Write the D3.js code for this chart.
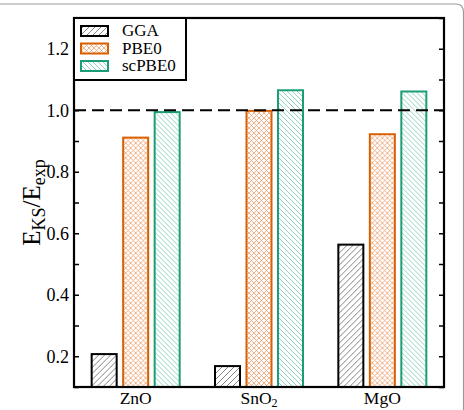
<!DOCTYPE html>
<html>
<head>
<meta charset="utf-8">
<script src="https://cdn.jsdelivr.net/npm/d3@7/dist/d3.min.js"></script>
<style>
  body { margin: 0; background: #fff; }
</style>
</head>
<body>
<div id="chart"></div>
<script>
// materials along the x axis
var materials = ["ZnO", "SnO2", "MgO"];
// methods (one bar each per material)
var methods = ["GGA", "PBE0", "scPBE0"];
// E_KS / E_exp
var ggaValues = [0.207, 0.168, 0.563];
var pbe0Values = [0.911, 0.998, 0.922];
var scpbe0Values = [0.994, 1.065, 1.061];
var yTicks = [0.2, 0.4, 0.6, 0.8, 1.0, 1.2];
var yMinorTicks = [0.1, 0.2, 0.3, 0.4, 0.5, 0.6, 0.7, 0.8, 0.9, 1.0, 1.1, 1.2, 1.3];
var refLine = 1.0;

var W = 464, H = 410;
var margin = {top: 18, right: 20, bottom: 23, left: 74};
var width = W - margin.left - margin.right,
    height = H - margin.top - margin.bottom;
var serif = "'Liberation Serif', 'Times New Roman', Times, 'DejaVu Serif', serif";

var colors = {GGA: "#000000", PBE0: "#d95f02", scPBE0: "#1b9e77"};
var hatch = {GGA: "url(#hatchGGA)", PBE0: "url(#hatchPBE0)", scPBE0: "url(#hatchSC)"};

// build rows from the arrays
var rows = materials.map(function(m, i) {
  return {material: m, values: [
    {method: "GGA", value: ggaValues[i]},
    {method: "PBE0", value: pbe0Values[i]},
    {method: "scPBE0", value: scpbe0Values[i]}
  ]};
});

var svg = d3.select("#chart").append("svg")
  .attr("width", W).attr("height", H)
  .attr("font-family", serif);

// faint rounded frame of the original figure
svg.append("path")
  .attr("d", "M0,4 H456 Q463,4 463.5,12 V410")
  .attr("fill", "none").attr("stroke", "#9a9a9a").attr("stroke-width", 1.2);

// hatch patterns
var defs = svg.append("defs");
var pg = defs.append("pattern").attr("id", "hatchGGA")
  .attr("patternUnits", "userSpaceOnUse").attr("width", 6).attr("height", 6);
pg.append("path").attr("d", "M-1,1 L1,-1 M0,6 L6,0 M5,7 L7,5")
  .attr("stroke", "#666").attr("stroke-width", 0.8);

var ps = defs.append("pattern").attr("id", "hatchSC")
  .attr("patternUnits", "userSpaceOnUse").attr("width", 5).attr("height", 5);
ps.append("path").attr("d", "M-1,4 L1,6 M0,0 L5,5 M4,-1 L6,1")
  .attr("stroke", "#76c8ae").attr("stroke-width", 0.8);

var pp = defs.append("pattern").attr("id", "hatchPBE0")
  .attr("patternUnits", "userSpaceOnUse").attr("width", 5).attr("height", 5);
pp.append("path").attr("d", "M-1,4 L1,6 M0,0 L5,5 M4,-1 L6,1 M-1,1 L1,-1 M0,5 L5,0 M4,6 L6,4")
  .attr("stroke", "#eda06f").attr("stroke-width", 0.8);

var g = svg.append("g")
  .attr("transform", "translate(" + margin.left + "," + margin.top + ")");

var x0 = d3.scaleBand().domain(materials).range([0, width]).padding(0);
var x1 = d3.scaleBand().domain(methods).range([-44, 44]).paddingInner(0.206).paddingOuter(0);
var y = d3.scaleLinear().domain([0.1, 1.3]).range([height, 0]);

// bars
var groups = g.selectAll(".grp").data(rows).enter().append("g")
  .attr("transform", function(d) { return "translate(" + (x0(d.material) + x0.bandwidth() / 2) + ",0)"; });

groups.selectAll("rect").data(function(d) { return d.values; }).enter().append("rect")
  .attr("x", function(d) { return x1(d.method); })
  .attr("width", x1.bandwidth())
  .attr("y", function(d) { return y(d.value); })
  .attr("height", function(d) { return height - y(d.value); })
  .attr("fill", function(d) { return hatch[d.method]; })
  .attr("stroke", function(d) { return colors[d.method]; })
  .attr("stroke-width", 2);

// dashed reference line
g.append("line")
  .attr("x1", 0).attr("x2", width)
  .attr("y1", y(refLine)).attr("y2", y(refLine))
  .attr("stroke", "#000").attr("stroke-width", 2)
  .attr("stroke-dasharray", "12,6");

// left axis: inward ticks, labels outside
var yl = g.append("g").call(d3.axisLeft(y).tickValues(yMinorTicks).tickSize(-5).tickFormat(""));
yl.select(".domain").remove();
yl.selectAll("line").attr("stroke", "#000").attr("stroke-width", 1.5);

g.selectAll(".ylab").data(yTicks).enter().append("text")
  .attr("x", -5).attr("y", function(d) { return y(d); })
  .attr("dy", "0.35em").attr("text-anchor", "end")
  .attr("font-size", 18).text(function(d) { return d3.format(".1f")(d); });

// right axis: inward ticks only
var yr = g.append("g").attr("transform", "translate(" + width + ",0)")
  .call(d3.axisRight(y).tickValues(yMinorTicks).tickSize(-5).tickFormat(""));
yr.select(".domain").remove();
yr.selectAll("line").attr("stroke", "#000").attr("stroke-width", 1.5);

// x labels
var xl = g.selectAll(".xlab").data(materials).enter().append("text")
  .attr("x", function(d) { return x0(d) + x0.bandwidth() / 2; })
  .attr("y", height + 17)
  .attr("text-anchor", "middle").attr("font-size", 17.5);
xl.each(function(d) {
  var t = d3.select(this);
  var m = d.match(/^([A-Za-z]+?)(\d*)$/);
  t.append("tspan").text(m[1]);
  if (m[2]) t.append("tspan").attr("font-size", 12).attr("dy", 3).text(m[2]);
});

// plot frame
g.append("rect").attr("width", width).attr("height", height)
  .attr("fill", "none").attr("stroke", "#000").attr("stroke-width", 2.2);

// legend
var lg = g.append("g");
lg.append("rect").attr("x", 0).attr("y", 0).attr("width", 112).attr("height", 62)
  .attr("fill", "#fff").attr("stroke", "#000").attr("stroke-width", 2);
methods.forEach(function(m, i) {
  var yy = 8 + i * 17.5;
  lg.append("rect").attr("x", 7).attr("y", yy).attr("width", 27).attr("height", 10)
    .attr("fill", hatch[m]).attr("stroke", colors[m]).attr("stroke-width", 2);
  lg.append("text").attr("x", 48).attr("y", yy + 10)
    .attr("font-size", 17).text(m);
});

// y label
var ylab = svg.append("text")
  .attr("transform", "translate(40," + (margin.top + height / 2) + ") rotate(-90)")
  .attr("text-anchor", "middle").attr("font-size", 25);
ylab.append("tspan").text("E");
ylab.append("tspan").attr("font-size", 18).attr("dy", 5).text("KS");
ylab.append("tspan").attr("dy", -5).text("/E");
ylab.append("tspan").attr("font-size", 18).attr("dy", 5).text("exp");
</script>
</body>
</html>
